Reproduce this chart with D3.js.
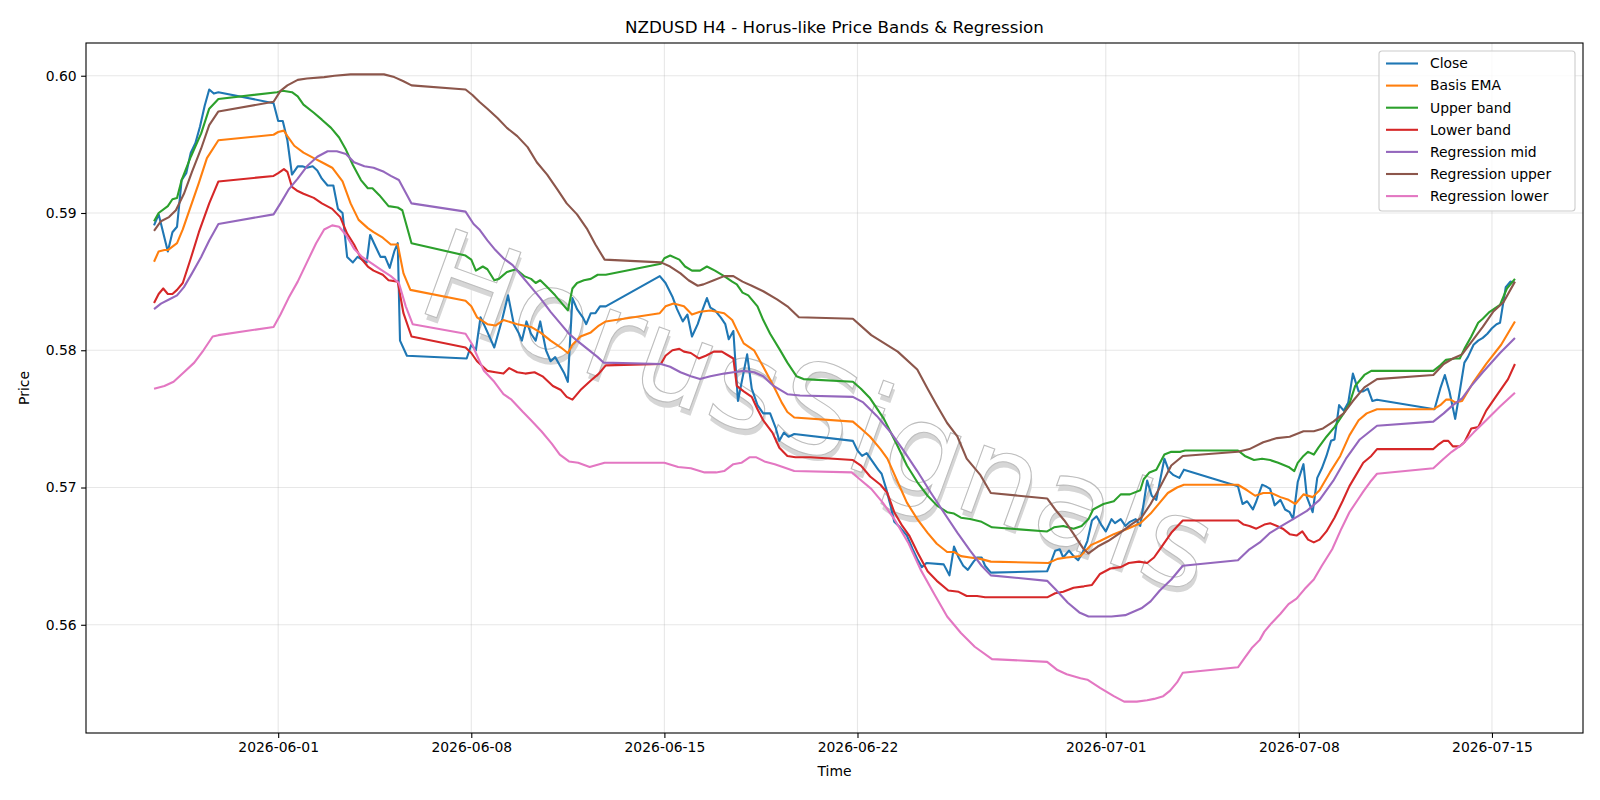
<!DOCTYPE html>
<html>
<head>
<meta charset="utf-8">
<script src="https://cdn.jsdelivr.net/npm/d3@7"></script>
<style>
  body { margin: 0; background: #fff; }
  text { font-family: "DejaVu Sans", sans-serif; }
</style>
</head>
<body>
<div id="chart"></div>
<script>
// H4 bars: hours since 2026-05-27 12:00 UTC
const closePts = [[0,.5891],[4,.5899],[12,.5872],[16,.5886],[20,.5890],[24,.5924],[28,.5929],[32,.5944],[36,.5951],[40,.5963],[44,.5978],[48,.5990],[52,.5987],[56,.5988],[104,.5980],[108,.5967],[112,.5967],[116,.5953],[120,.5928],[125,.5934],[129,.5934],[133,.5933],[138,.5934],[142,.5931],[146,.5925],[151,.5920],[156,.5920],[160,.5903],[164,.5900],[168,.5868],[173,.5864],[177,.5868],[181,.5866],[185,.5864],[188,.5884],[193,.5875],[197,.5868],[201,.5868],[205,.5860],[209,.5872],[212,.5878],[214,.5807],[220,.5796],[272,.5794],[276,.5804],[280,.5800],[284,.5824],[288,.5817],[296,.5802],[303,.5823],[308,.5840],[313,.5819],[317,.5813],[320,.5807],[324,.5821],[328,.5812],[332,.5807],[336,.5821],[341,.5800],[345,.5792],[349,.5795],[353,.5789],[357,.5783],[360,.5777],[364,.5838],[368,.5830],[373,.5824],[376,.5819],[380,.5827],[384,.5827],[388,.5832],[393,.5832],[440,.5854],[445,.5849],[451,.5839],[455,.5830],[460,.5821],[464,.5826],[468,.5810],[473,.5819],[477,.5829],[481,.5838],[484,.5831],[488,.5829],[493,.5824],[497,.5819],[500,.5808],[504,.5814],[508,.5763],[516,.5797],[520,.5772],[525,.5760],[530,.5754],[536,.5754],[541,.5743],[544,.5734],[548,.5740],[552,.5737],[557,.5739],[608,.5734],[612,.5727],[616,.5723],[620,.5725],[625,.5719],[630,.5713],[633,.5710],[637,.5699],[641,.5686],[644,.5675],[649,.5671],[655,.5665],[660,.5655],[664,.5648],[668,.5642],[672,.5645],[687,.5644],[692,.5636],[696,.5657],[700,.5649],[704,.5643],[708,.5640],[713,.5646],[716,.5649],[720,.5649],[723,.5643],[728,.5638],[777,.5639],[780,.5645],[784,.5654],[788,.5655],[791,.5649],[796,.5654],[800,.5650],[804,.5647],[808,.5653],[812,.5661],[816,.5676],[820,.5679],[824,.5673],[828,.5668],[833,.5677],[836,.5674],[841,.5677],[845,.5672],[849,.5675],[854,.5677],[858,.5672],[864,.5705],[868,.5694],[872,.5691],[875,.5704],[879,.5721],[883,.5712],[887,.5709],[892,.5707],[896,.5713],[943,.5701],[947,.5688],[951,.5690],[956,.5684],[959,.5690],[964,.5702],[967,.5701],[971,.5699],[975,.5687],[980,.5691],[984,.5684],[988,.5682],[991,.5677],[995,.5704],[1000,.5717],[1003,.5693],[1008,.5682],[1012,.5707],[1016,.5714],[1020,.5723],[1024,.5734],[1027,.5735],[1031,.5760],[1035,.5756],[1039,.5762],[1043,.5783],[1048,.5770],[1052,.5770],[1056,.5772],[1060,.5763],[1064,.5764],[1114,.5757],[1119,.5772],[1123,.5782],[1127,.5770],[1132,.5750],[1135,.5765],[1140,.5791],[1143,.5795],[1148,.5804],[1152,.5807],[1156,.5809],[1160,.5812],[1164,.5816],[1168,.5819],[1171,.5820],[1176,.5846],[1180,.5850],[1184,.5849]];

const basisPts = [[0,.58645],[4,.5872],[9,.5873],[12,.5873],[20,.5878],[25,.5888],[32,.5905],[39,.5922],[46,.5940],[56,.5953],[104,.5957],[108,.5959],[113,.5960],[116,.5956],[122,.5949],[130,.5944],[139,.5940],[146,.5937],[155,.5933],[164,.5923],[171,.5907],[178,.5895],[186,.5889],[191,.5886],[199,.5882],[206,.5877],[212,.5877],[217,.5856],[223,.5844],[271,.5836],[276,.5832],[281,.5824],[290,.5819],[297,.5818],[304,.5822],[316,.5819],[328,.5817],[336,.5813],[345,.5807],[354,.5802],[360,.5798],[364,.5804],[371,.5810],[380,.5813],[387,.5818],[393,.5821],[440,.5827],[445,.5832],[452,.5834],[461,.5832],[468,.5826],[475,.5828],[484,.5829],[496,.5827],[503,.5822],[507,.5815],[513,.5805],[522,.5800],[530,.5788],[539,.5774],[546,.5762],[551,.5755],[557,.5751],[608,.5748],[615,.5743],[623,.5737],[632,.5728],[638,.5721],[647,.5704],[655,.5689],[664,.5677],[673,.5667],[681,.5659],[690,.5653],[696,.5653],[702,.5650],[710,.5649],[719,.5648],[728,.5646],[778,.5645],[786,.5648],[794,.5649],[806,.5650],[815,.5658],[823,.5661],[835,.5666],[847,.5670],[858,.5674],[867,.5681],[875,.5689],[882,.5696],[890,.5700],[896,.5702],[943,.5702],[951,.5698],[958,.5694],[965,.5696],[972,.5696],[980,.5693],[987,.5691],[993,.5688],[1000,.5695],[1008,.5693],[1014,.5698],[1023,.5711],[1032,.5723],[1040,.5738],[1048,.5749],[1055,.5754],[1064,.5757],[1113,.5757],[1119,.5760],[1124,.5764],[1128,.5764],[1132,.5762],[1138,.5763],[1148,.5777],[1159,.5790],[1172,.5804],[1184,.5821]];

const upperPts = [[0,.5894],[4,.5900],[12,.5905],[16,.5910],[20,.5911],[24,.5924],[32,.5941],[41,.5958],[48,.5976],[56,.5983],[107,.5988],[112,.5989],[120,.5988],[125,.5985],[130,.5979],[139,.5973],[146,.5968],[154,.5962],[161,.5955],[167,.5946],[173,.5935],[180,.5924],[186,.5918],[190,.5918],[196,.5913],[204,.5905],[212,.5904],[216,.5902],[224,.5878],[271,.5869],[276,.5866],[280,.5858],[286,.5861],[290,.5859],[296,.5851],[300,.5852],[307,.5857],[315,.5859],[322,.5854],[328,.5852],[332,.5849],[336,.5851],[342,.5846],[349,.5840],[355,.5834],[360,.5829],[364,.5845],[368,.5849],[374,.5851],[380,.5852],[386,.5855],[393,.5855],[441,.5863],[444,.5867],[449,.5869],[457,.5866],[462,.5861],[468,.5858],[475,.5858],[481,.5861],[488,.5858],[496,.5854],[503,.5850],[507,.5848],[512,.5842],[517,.5840],[525,.5832],[530,.5822],[536,.5812],[544,.5801],[551,.5791],[559,.5781],[565,.5779],[608,.5777],[615,.5772],[623,.5765],[635,.5750],[647,.5730],[655,.5716],[664,.5704],[673,.5694],[681,.5687],[690,.5682],[696,.5681],[702,.5678],[710,.5677],[720,.5675],[729,.5671],[777,.5668],[783,.5671],[791,.5672],[800,.5670],[807,.5672],[813,.5677],[817,.5684],[826,.5688],[835,.5690],[841,.5695],[849,.5695],[858,.5698],[861,.5706],[866,.5711],[872,.5713],[879,.5724],[885,.5726],[893,.5726],[897,.5727],[943,.5727],[949,.5723],[957,.5720],[964,.5721],[971,.5720],[978,.5718],[987,.5715],[992,.5712],[995,.5718],[1000,.5723],[1004,.5726],[1009,.5724],[1013,.5729],[1020,.5737],[1027,.5744],[1035,.5754],[1040,.5761],[1045,.5774],[1049,.5778],[1053,.5782],[1059,.5785],[1064,.5785],[1113,.5785],[1119,.5789],[1124,.5793],[1132,.5794],[1136,.5794],[1140,.5801],[1146,.5810],[1152,.5820],[1156,.5823],[1162,.5828],[1171,.5833],[1177,.5845],[1184,.5852]];

const lowerPts = [[0,.58345],[4,.5841],[8,.5845],[12,.5841],[16,.5841],[20,.5844],[25,.5849],[32,.5867],[39,.5886],[48,.5907],[56,.5923],[104,.5927],[108,.5929],[113,.5932],[116,.5930],[120,.5919],[125,.5916],[130,.5914],[139,.5911],[146,.5907],[155,.5903],[162,.5897],[168,.5885],[174,.5877],[180,.5867],[186,.5861],[191,.5858],[199,.5855],[204,.5851],[212,.5850],[217,.5827],[224,.5810],[271,.5802],[276,.5798],[281,.5792],[290,.5785],[297,.5784],[304,.5783],[309,.5787],[316,.5784],[323,.5783],[331,.5784],[338,.5781],[347,.5774],[354,.5771],[359,.5766],[364,.5764],[371,.5771],[380,.5778],[387,.5783],[393,.5789],[441,.5790],[445,.5796],[451,.5800],[457,.5801],[461,.5799],[467,.5798],[474,.5794],[480,.5796],[487,.5799],[494,.5799],[500,.5796],[504,.5794],[507,.5774],[513,.5770],[520,.5766],[525,.5757],[530,.5749],[538,.5740],[544,.5729],[551,.5723],[558,.5722],[571,.5722],[608,.5720],[615,.5716],[623,.5708],[632,.5702],[638,.5696],[644,.5682],[651,.5672],[657,.5665],[664,.5653],[673,.5639],[681,.5632],[691,.5625],[700,.5624],[707,.5621],[716,.5621],[723,.5620],[777,.5620],[784,.5623],[791,.5624],[800,.5627],[809,.5628],[816,.5629],[823,.5637],[832,.5641],[841,.5642],[848,.5645],[857,.5646],[864,.5645],[870,.5649],[875,.5655],[885,.5667],[895,.5676],[943,.5676],[948,.5673],[953,.5672],[959,.5670],[966,.5673],[971,.5674],[977,.5672],[982,.5670],[988,.5666],[994,.5665],[999,.5668],[1004,.5662],[1009,.5660],[1014,.5662],[1020,.5668],[1027,.5678],[1034,.5690],[1040,.5701],[1052,.5718],[1059,.5723],[1064,.5728],[1113,.5728],[1117,.5731],[1122,.5734],[1126,.5734],[1130,.5730],[1136,.5730],[1140,.5733],[1146,.5743],[1152,.5744],[1159,.5756],[1168,.5767],[1178,.5779],[1184,.5790]];

const regMidPts = [[0,.5830],[6,.5834],[13,.5837],[20,.5840],[26,.5846],[33,.5856],[41,.5868],[48,.5880],[56,.5892],[104,.5899],[110,.5907],[117,.5917],[125,.5925],[133,.5934],[142,.5941],[151,.5945],[159,.5945],[167,.5943],[174,.5937],[183,.5934],[191,.5933],[200,.5930],[206,.5927],[213,.5924],[224,.5907],[271,.5901],[278,.5892],[283,.5888],[290,.5880],[297,.5873],[304,.5867],[312,.5862],[319,.5855],[328,.5846],[336,.5838],[345,.5828],[354,.5819],[361,.5812],[368,.5807],[377,.5801],[386,.5795],[391,.5791],[441,.5790],[449,.5788],[458,.5784],[467,.5781],[475,.5779],[484,.5781],[496,.5783],[504,.5784],[513,.5785],[522,.5784],[530,.5781],[539,.5774],[551,.5768],[562,.5767],[608,.5766],[617,.5762],[629,.5752],[641,.5740],[652,.5727],[664,.5712],[676,.5696],[687,.5682],[699,.5667],[710,.5654],[720,.5643],[728,.5636],[777,.5632],[784,.5626],[795,.5616],[805,.5609],[813,.5606],[824,.5606],[833,.5606],[845,.5607],[859,.5612],[867,.5617],[875,.5625],[885,.5633],[895,.5643],[943,.5647],[953,.5655],[962,.5660],[971,.5667],[981,.5672],[991,.5677],[1003,.5683],[1014,.5691],[1026,.5705],[1037,.5721],[1049,.5735],[1064,.5745],[1113,.5748],[1122,.5754],[1130,.5760],[1138,.5765],[1146,.5774],[1156,.5784],[1171,.5798],[1184,.5809]];

const regUpperPts = [[0,.5887],[6,.5894],[13,.5897],[19,.5902],[26,.5914],[33,.5930],[41,.5947],[48,.5964],[56,.5974],[104,.5981],[110,.5989],[116,.5993],[125,.5997],[133,.5998],[148,.5999],[157,.6000],[171,.6001],[186,.6001],[200,.6001],[209,.5999],[217,.5996],[224,.5993],[271,.5990],[277,.5986],[283,.5981],[290,.5976],[299,.5969],[307,.5962],[316,.5956],[325,.5948],[333,.5937],[342,.5928],[351,.5917],[359,.5907],[368,.5899],[377,.5888],[384,.5877],[392,.5866],[441,.5864],[449,.5861],[458,.5856],[465,.5851],[473,.5847],[478,.5848],[487,.5851],[496,.5854],[504,.5854],[512,.5850],[520,.5847],[530,.5843],[542,.5837],[551,.5832],[561,.5824],[608,.5823],[624,.5811],[647,.5799],[664,.5786],[673,.5772],[681,.5760],[690,.5747],[699,.5737],[707,.5721],[719,.5709],[728,.5696],[777,.5692],[784,.5684],[792,.5676],[801,.5665],[808,.5656],[813,.5652],[821,.5657],[830,.5661],[839,.5666],[850,.5673],[859,.5678],[867,.5688],[875,.5700],[885,.5716],[895,.5723],[943,.5726],[953,.5728],[965,.5733],[977,.5736],[988,.5737],[1000,.5741],[1009,.5741],[1017,.5743],[1026,.5748],[1035,.5754],[1043,.5763],[1053,.5773],[1064,.5779],[1113,.5782],[1122,.5790],[1130,.5794],[1138,.5797],[1146,.5806],[1156,.5817],[1165,.5828],[1174,.5835],[1184,.5850]];

const regLowerPts = [[0,.5772],[9,.5774],[17,.5777],[26,.5784],[35,.5791],[43,.5800],[51,.5810],[56,.5811],[104,.5817],[110,.5826],[117,.5838],[125,.5850],[133,.5864],[141,.5878],[148,.5888],[155,.5891],[161,.5890],[167,.5884],[174,.5874],[181,.5868],[190,.5863],[197,.5859],[206,.5854],[213,.5849],[219,.5832],[225,.5819],[271,.5812],[277,.5804],[280,.5798],[287,.5785],[296,.5777],[304,.5768],[311,.5764],[321,.5755],[328,.5749],[337,.5741],[346,.5732],[353,.5724],[361,.5719],[369,.5718],[379,.5715],[392,.5718],[444,.5718],[456,.5715],[467,.5714],[479,.5711],[489,.5711],[496,.5712],[504,.5717],[511,.5718],[518,.5722],[524,.5722],[531,.5719],[540,.5717],[547,.5715],[557,.5712],[607,.5711],[614,.5706],[624,.5699],[634,.5689],[644,.5677],[656,.5660],[667,.5640],[679,.5622],[690,.5606],[702,.5594],[714,.5584],[729,.5575],[777,.5573],[786,.5567],[794,.5564],[806,.5561],[812,.5560],[823,.5554],[835,.5548],[844,.5544],[855,.5544],[864,.5545],[870,.5546],[878,.5548],[884,.5552],[890,.5558],[895,.5565],[943,.5569],[949,.5576],[955,.5583],[962,.5589],[966,.5595],[972,.5601],[980,.5608],[987,.5615],[994,.5619],[1001,.5626],[1009,.5633],[1016,.5643],[1025,.5655],[1033,.5670],[1040,.5682],[1048,.5692],[1052,.5697],[1058,.5704],[1064,.5710],[1113,.5714],[1122,.5721],[1129,.5726],[1139,.5732],[1148,.5740],[1159,.5749],[1171,.5759],[1184,.5769]];

const seriesNames = ["Close", "Basis EMA", "Upper band", "Lower band", "Regression mid", "Regression upper", "Regression lower"];
const seriesColors = ["#1f77b4", "#ff7f0e", "#2ca02c", "#d62728", "#9467bd", "#8c564b", "#e377c2"];
const xTickLabels = ["2026-06-01", "2026-06-08", "2026-06-15", "2026-06-22", "2026-07-01", "2026-07-08", "2026-07-15"];
const yTickValues = [0.56, 0.57, 0.58, 0.59, 0.60];

const START = Date.UTC(2026, 4, 27, 12);
const toDate = h => new Date(START + h * 3600e3);

const allSeries = [closePts, basisPts, upperPts, lowerPts, regMidPts, regUpperPts, regLowerPts]
  .map((pts, i) => ({ name: seriesNames[i], color: seriesColors[i], pts }));

// set the dimensions and margins of the graph
const W = 1600, H = 800;
const margin = {top: 43, right: 17, bottom: 67, left: 86};
const width = W - margin.left - margin.right;
const height = H - margin.top - margin.bottom;

const svg = d3.select("#chart")
  .append("svg")
    .attr("width", W)
    .attr("height", H)
  .append("g")
    .attr("transform", `translate(${margin.left}, ${margin.top})`);

// scales with matplotlib-like 5% margins
const allH = allSeries.flatMap(s => s.pts.map(p => p[0]));
const allV = allSeries.flatMap(s => s.pts.map(p => p[1]));
const [h0, h1] = d3.extent(allH);
const [v0, v1] = d3.extent(allV);
const hp = (h1 - h0) * 0.05, vp = (v1 - v0) * 0.05;

const x = d3.scaleUtc()
  .domain([toDate(h0 - hp), toDate(h1 + hp)])
  .range([0, width]);
const y = d3.scaleLinear()
  .domain([v0 - vp, v1 + vp])
  .range([height, 0]);

const parseDay = d3.utcParse("%Y-%m-%d");
const xTicks = xTickLabels.map(parseDay);

// grid
svg.append("g")
  .selectAll("line")
  .data(xTicks)
  .join("line")
    .attr("x1", d => x(d)).attr("x2", d => x(d))
    .attr("y1", 0).attr("y2", height)
    .attr("stroke", "#b0b0b0").attr("stroke-opacity", 0.3).attr("stroke-width", 1.1);
svg.append("g")
  .selectAll("line")
  .data(yTickValues)
  .join("line")
    .attr("x1", 0).attr("x2", width)
    .attr("y1", d => y(d)).attr("y2", d => y(d))
    .attr("stroke", "#b0b0b0").attr("stroke-opacity", 0.3).attr("stroke-width", 1.1);

// watermark
const wm = svg.append("g")
  .attr("transform", `translate(${805 - margin.left}, ${452 - margin.top}) rotate(20)`);
wm.append("text")
  .attr("x", 3).attr("y", 5)
  .attr("text-anchor", "middle")
  .attr("font-size", 124)
  .attr("letter-spacing", 2)
  .attr("fill", "#d6d6d6")
  .text("HorusSignals");
wm.append("text")
  .attr("text-anchor", "middle")
  .attr("font-size", 124)
  .attr("letter-spacing", 2)
  .attr("fill", "#ffffff")
  .attr("stroke", "#bdbdbd")
  .attr("stroke-width", 1.1)
  .text("HorusSignals");

// lines
const line = d3.line()
  .x(d => x(toDate(d[0])))
  .y(d => y(d[1]));

svg.append("g")
  .selectAll("path")
  .data(allSeries)
  .join("path")
    .attr("d", d => line(d.pts))
    .attr("fill", "none")
    .attr("stroke", d => d.color)
    .attr("stroke-width", 2.1)
    .attr("stroke-linejoin", "round");

// axes
const xAxis = svg.append("g")
  .attr("transform", `translate(0, ${height})`)
  .call(d3.axisBottom(x).tickValues(xTicks).tickFormat(d3.utcFormat("%Y-%m-%d")).tickSize(4.9).tickPadding(4.5));
const yAxis = svg.append("g")
  .call(d3.axisLeft(y).tickValues(yTickValues).tickFormat(d3.format(".2f")).tickSize(4.9).tickPadding(4.5));

[xAxis, yAxis].forEach(a => {
  a.select(".domain").remove();
  a.selectAll("text").attr("font-size", "13.9px").attr("font-family", "DejaVu Sans").attr("fill", "#000");
  a.selectAll("line").attr("stroke", "#000").attr("stroke-width", 1.1);
});

// frame
svg.append("rect")
  .attr("width", width).attr("height", height)
  .attr("fill", "none").attr("stroke", "#000").attr("stroke-width", 1.1);

// labels
svg.append("text")
  .attr("x", width / 2).attr("y", -10)
  .attr("text-anchor", "middle")
  .attr("font-size", "16.7px")
  .text("NZDUSD H4 - Horus-like Price Bands & Regression");
svg.append("text")
  .attr("x", width / 2).attr("y", height + 43)
  .attr("text-anchor", "middle")
  .attr("font-size", "13.9px")
  .text("Time");
svg.append("text")
  .attr("transform", `translate(${29 - margin.left}, ${height / 2}) rotate(-90)`)
  .attr("text-anchor", "middle")
  .attr("font-size", "13.9px")
  .text("Price");

// legend
const lg = svg.append("g")
  .attr("transform", `translate(${1379 - margin.left}, ${51 - margin.top})`);
lg.append("rect")
  .attr("width", 196).attr("height", 160)
  .attr("rx", 3)
  .attr("fill", "#fff").attr("fill-opacity", 0.8)
  .attr("stroke", "#cccccc").attr("stroke-width", 1.1);
const item = lg.selectAll("g.item")
  .data(allSeries)
  .join("g")
    .attr("class", "item")
    .attr("transform", (d, i) => `translate(0, ${12.5 + i * 22.1})`);
item.append("line")
  .attr("x1", 7).attr("x2", 39)
  .attr("stroke", d => d.color).attr("stroke-width", 2.1);
item.append("text")
  .attr("x", 51).attr("dy", "0.35em")
  .attr("font-size", "13.9px")
  .text(d => d.name);
</script>
</body>
</html>
